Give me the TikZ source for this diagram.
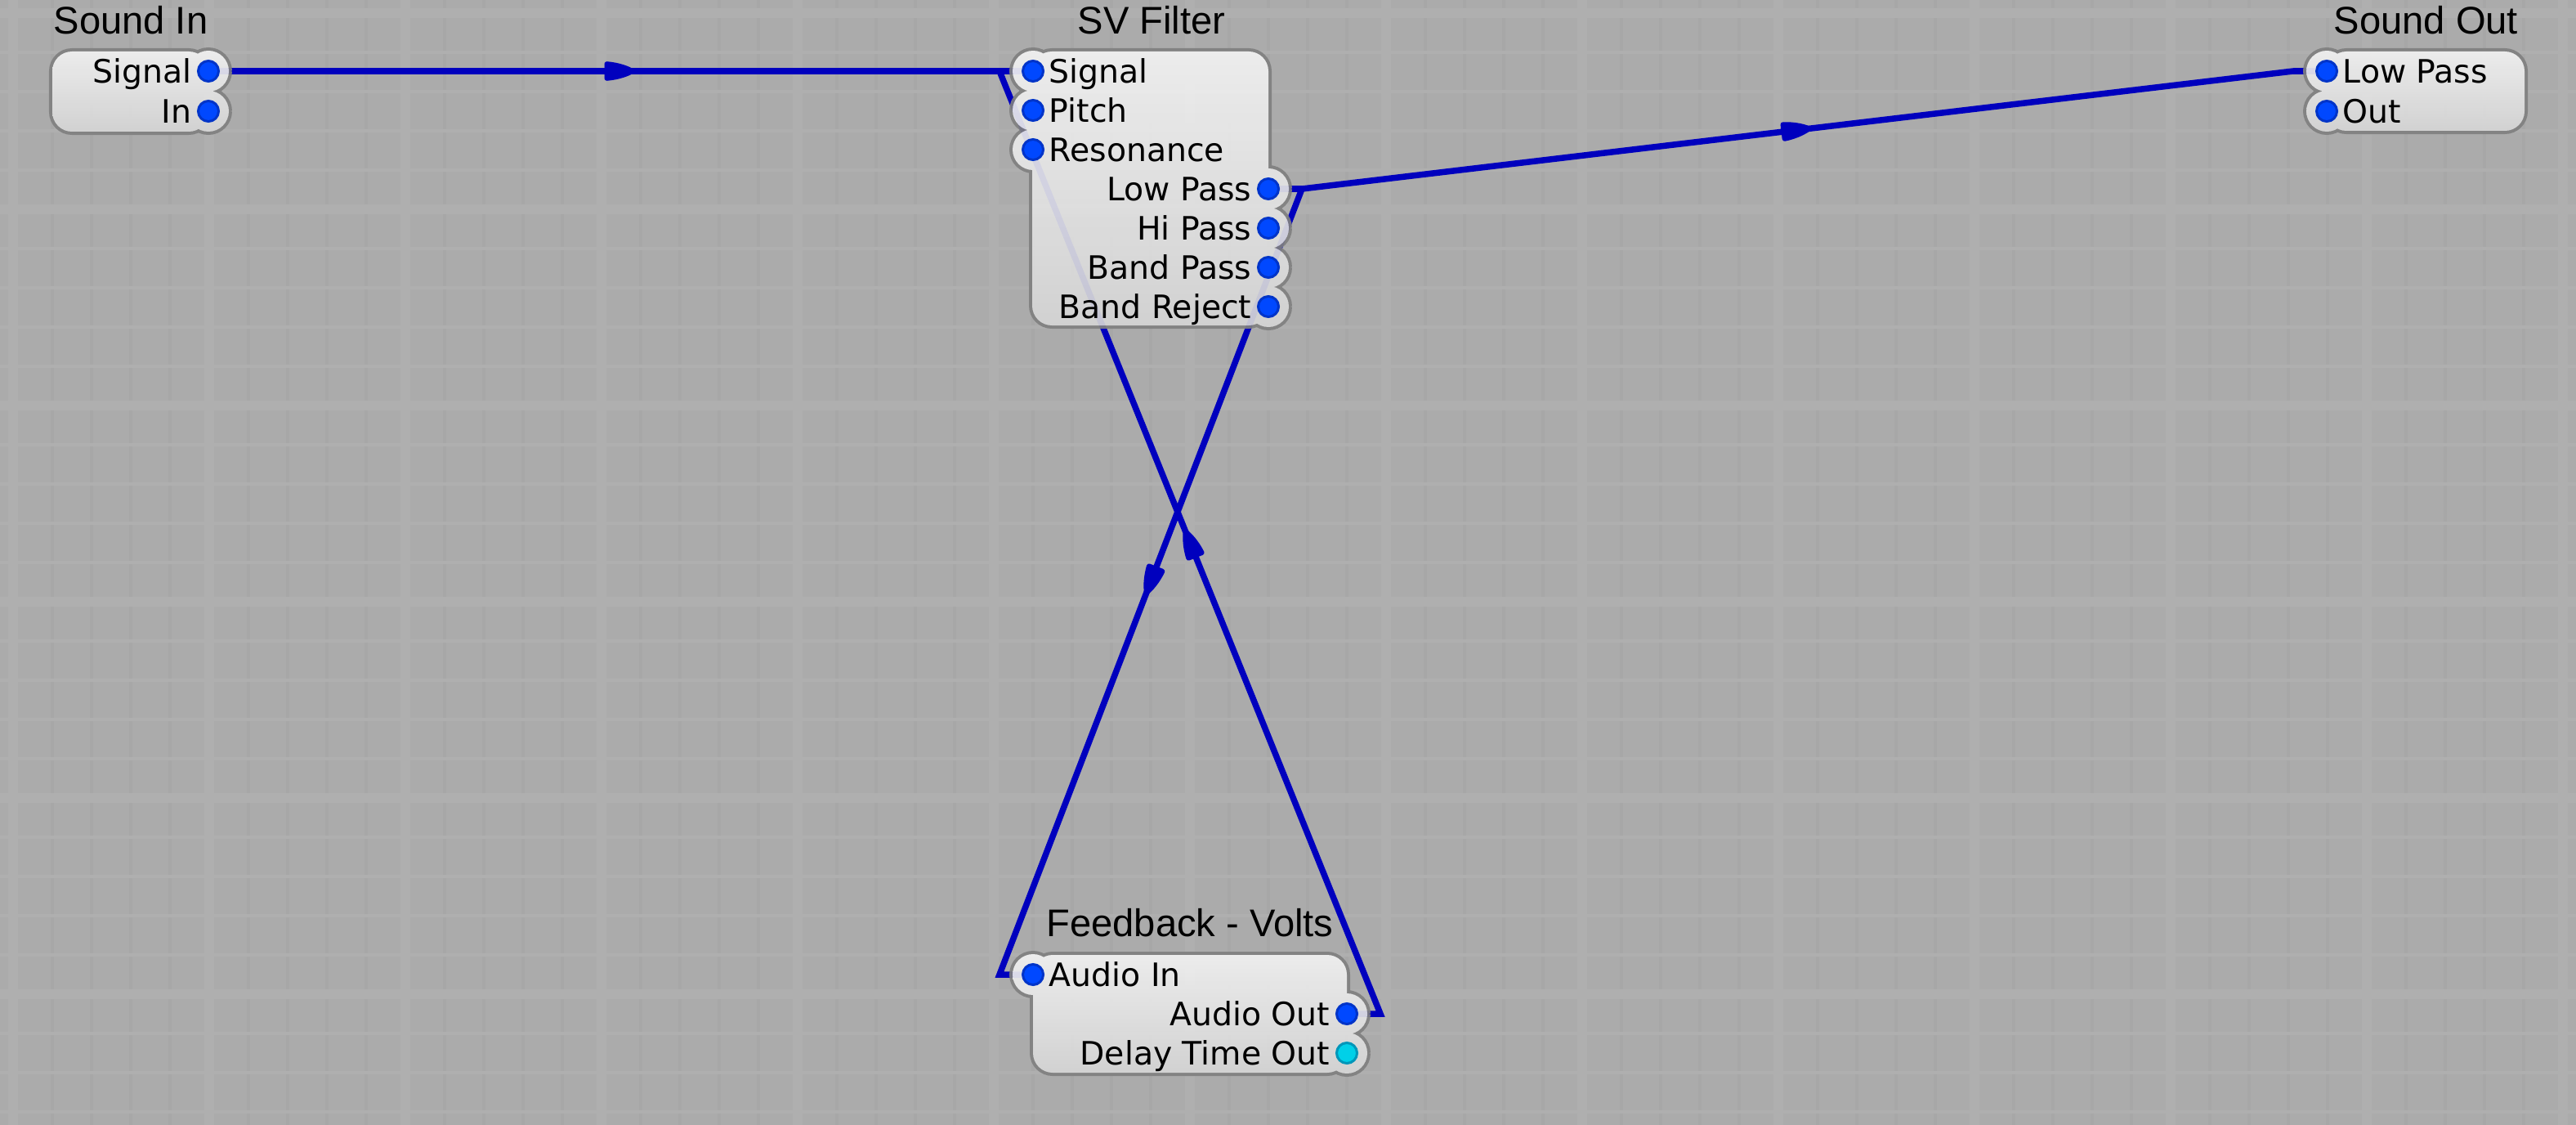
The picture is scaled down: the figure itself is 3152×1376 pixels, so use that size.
\documentclass[tikz,border=0pt]{standalone}
\usepackage{fontspec}
\setmainfont{DejaVu Sans}
\newfontfamily\titlefont{Liberation Sans}
\usetikzlibrary{decorations.markings}

\definecolor{canvas}{RGB}{171,171,171}
\definecolor{gridv}{RGB}{167,167,167}
\definecolor{gridh}{RGB}{175,175,175}
\definecolor{gridmaj}{RGB}{175,175,175}
\definecolor{wireblue}{RGB}{0,0,190}
\definecolor{portblue}{RGB}{0,72,255}
\definecolor{portring}{RGB}{0,52,200}
\definecolor{portcyan}{RGB}{0,208,232}
\definecolor{cyanring}{RGB}{0,150,185}
\definecolor{boxgray}{RGB}{128,128,128}
\definecolor{boxtop}{RGB}{242,242,242}
\definecolor{boxbot}{RGB}{213,213,213}

\pgfdeclarelayer{back}
\pgfdeclarelayer{wires}
\pgfsetlayers{back,wires,main}

\tikzset{
	wire/.style={draw=wireblue, line width=0.75mm, postaction={decorate},
		decoration={markings, mark=at position 0.5 with {\filldraw[wireblue, line width=0.6mm, line join=round]
			(-0.17cm,-0.088cm) .. controls (-0.02cm,-0.075cm) and (0.09cm,-0.03cm) .. (0.14cm,0cm)
			.. controls (0.09cm,0.03cm) and (-0.02cm,0.075cm) .. (-0.17cm,0.088cm) -- cycle;}}},
	port/.style={circle, draw=portring, fill=portblue, line width=0.3mm, minimum size=2.5mm, inner sep=0pt},
	cyanport/.style={draw=cyanring, fill=portcyan},
	inlabel/.style={anchor=base west, inner sep=0pt, xshift=1.9mm, yshift=-1.45mm, font=\fontsize{11.2}{13}\selectfont},
	outlabel/.style={anchor=base east, inner sep=0pt, xshift=-2mm, yshift=-1.45mm, font=\fontsize{11.2}{13}\selectfont},
	modtitle/.style={inner sep=0pt, font=\titlefont\fontsize{13.4}{16}\selectfont},
	boxedge/.style={draw=boxgray, line width=0.8mm},
	boxfill/.style={top color=boxtop, bottom color=boxbot, draw=none},
	sibody/.style={insert path={[rounded corners=2.4mm] (64,63) -- (255,63) -- (255,161) -- (64,161) -- cycle [sharp corners]
		foreach \y in {87,136} {(255,\y) ++(25,0) arc (0:360:25)}}},
	svbody/.style={insert path={[rounded corners=2.4mm] (1263,63) -- (1552,63) -- (1552,398) -- (1263,398) -- cycle [sharp corners]
		foreach \y in {87,135,183} {(1264,\y) ++(25,0) arc (0:360:25)}
		foreach \y in {231,279,327,375} {(1552,\y) ++(25,0) arc (0:360:25)}}},
	sobody/.style={insert path={[rounded corners=2.4mm] (2847,63) -- (3089,63) -- (3089,160) -- (2847,160) -- cycle [sharp corners]
		foreach \y in {87,136} {(2847,\y) ++(25,0) arc (0:360:25)}}},
	fbbody/.style={insert path={[rounded corners=2.4mm] (1264,1168) -- (1648,1168) -- (1648,1312) -- (1264,1312) -- cycle [sharp corners]
		(1264,1192) ++(25,0) arc (0:360:25)
		foreach \y in {1240,1288} {(1648,\y) ++(25,0) arc (0:360:25)}}},
}

\def\inport[#1](#2)#3{\node[port] (#1) at (#2) {}; \node[inlabel] (#1-l) at (#2) {#3};}
\def\outport[#1][#2](#3)#4{\node[port,#2] (#1) at (#3) {}; \node[outlabel] (#1-l) at (#3) {#4};}
\def\modbody#1{\begin{scope}[transparency group, opacity=0.92]
		\draw[boxedge,#1]; \shade[boxfill,#1];
	\end{scope}}

\begin{document}
\begin{tikzpicture}[x=0.01cm, y=-0.01cm]
	\useasboundingbox (0,0) rectangle (3152,1376);
	
	%%%%% GRID %%%%%
	\begin{pgfonlayer}{back}
		\fill[canvas] (0,0) rectangle (3152,1376);
		\foreach \x in {16,64,...,3152} \draw[gridv, line width=0.45mm] (\x,0) -- (\x,1376);
		\foreach \y in {16,64,...,1376} \draw[gridh, line width=0.4mm] (0,\y) -- (3152,\y);
		\foreach \x in {16,256,...,3152} \draw[gridmaj, line width=1.2mm] (\x,0) -- (\x,1376);
		\foreach \y in {16,256,...,1376} \draw[gridmaj, line width=1.2mm] (0,\y) -- (3152,\y);
	\end{pgfonlayer}
	
	%%%%% MODULES %%%%%
	\modbody{sibody}
	\node[modtitle, anchor=base west] (sititle) at (65,42) {Sound In};
	\outport[sisig][](255,87){Signal}
	\outport[siin][](255,136){In}
	
	\modbody{svbody}
	\node[modtitle, anchor=base] (svtitle) at (1409,42) {SV Filter};
	\inport[svsig](1264,87){Signal}
	\inport[svpitch](1264,135){Pitch}
	\inport[svres](1264,183){Resonance}
	\outport[svlp][](1552,231){Low Pass}
	\outport[svhp][](1552,279){Hi Pass}
	\outport[svbp][](1552,327){Band Pass}
	\outport[svbr][](1552,375){Band Reject}
	
	\modbody{sobody}
	\node[modtitle, anchor=base west] (sotitle) at (2855,42) {Sound Out};
	\inport[solp](2847,87){Low Pass}
	\inport[soout](2847,136){Out}
	
	\modbody{fbbody}
	\node[modtitle, anchor=base] (fbtitle) at (1456,1145) {Feedback - Volts};
	\inport[fbin](1264,1192){Audio In}
	\outport[fbout][](1648,1240){Audio Out}
	\outport[fbdelay][cyanport](1648,1288){Delay Time Out}
	
	%%%%% WIRES %%%%%
	\coordinate (sisig-s) at ([xshift=4.1mm]sisig.center);
	\coordinate (svsig-s) at ([xshift=-4.1mm]svsig.center);
	\coordinate (svlp-s) at ([xshift=4.1mm]svlp.center);
	\coordinate (solp-s) at ([xshift=-4.1mm]solp.center);
	\coordinate (fbin-s) at ([xshift=-4.1mm]fbin.center);
	\coordinate (fbout-s) at ([xshift=4.1mm]fbout.center);
	
	\begin{pgfonlayer}{wires}
		\draw[wire] (sisig) -- (sisig-s) -- (svsig-s) -- (svsig);
		\draw[wire] (svlp) -- (svlp-s) -- (solp-s) -- (solp);
		\draw[wire] (svlp) -- (svlp-s) -- (fbin-s) -- (fbin);
		\draw[wire] (fbout) -- (fbout-s) -- (svsig-s) -- (svsig);
	\end{pgfonlayer}
\end{tikzpicture}
\end{document}
